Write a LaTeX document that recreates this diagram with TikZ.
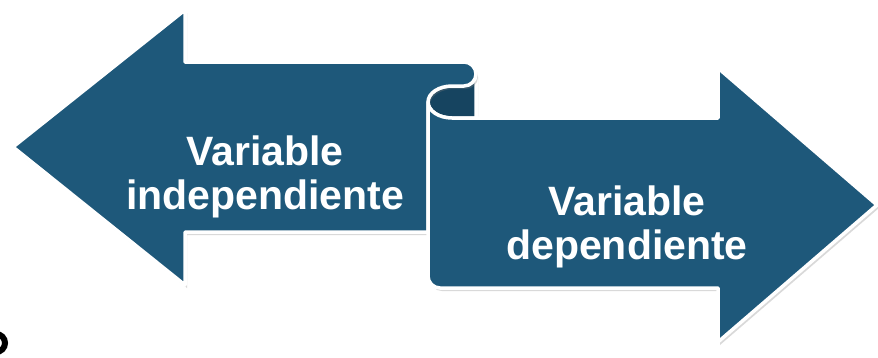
\documentclass[tikz,border=0pt]{standalone}
\usepackage{fontspec}
\setmainfont{Liberation Sans}
\usepackage{tikz}
\usetikzlibrary{shadows}
\definecolor{ribbon}{RGB}{30,88,122}
\definecolor{ribbonback}{RGB}{22,68,96}

\begin{document}
\begin{tikzpicture}[x=1pt,y=-1pt,
	band/.style={fill=ribbon,draw=white,line width=3.5pt,line join=round,drop shadow={shadow xshift=2pt,shadow yshift=-3pt,opacity=.3}},
	lbl/.style={text=white,font=\bfseries\fontsize{41}{44}\selectfont,align=center,inner sep=0pt}]
		\useasboundingbox (0,0) rectangle (878,357);
		\draw[band,fill=ribbonback] (476,74) -- (476,118) -- (452,118) arc[start angle=90,end angle=270,x radius=24,y radius=16] -- (452,74) -- cycle;
		\draw[band] (13,147) -- (185,10) -- (185,62) -- (464,62) arc[start angle=-90,end angle=90,radius=12] -- (452,86) arc[start angle=270,end angle=180,x radius=24,y radius=16] -- (428,232) -- (185,232) -- (185,285) -- cycle;
		\draw[band] (428,102) -- (428,276) arc[start angle=180,end angle=90,radius=12] -- (718,288) -- (718,342) -- (877,205) -- (718,68) -- (718,118) -- (452,118) arc[start angle=90,end angle=180,x radius=24,y radius=16] -- cycle;
		\node[lbl] (indep) at (265,177) {Variable\\independiente};
		\node[lbl] (dep) at (627,227) {Variable\\dependiente};
		\draw[line width=6pt] (-4,343) circle[radius=9];
	\end{tikzpicture}
\end{document}
